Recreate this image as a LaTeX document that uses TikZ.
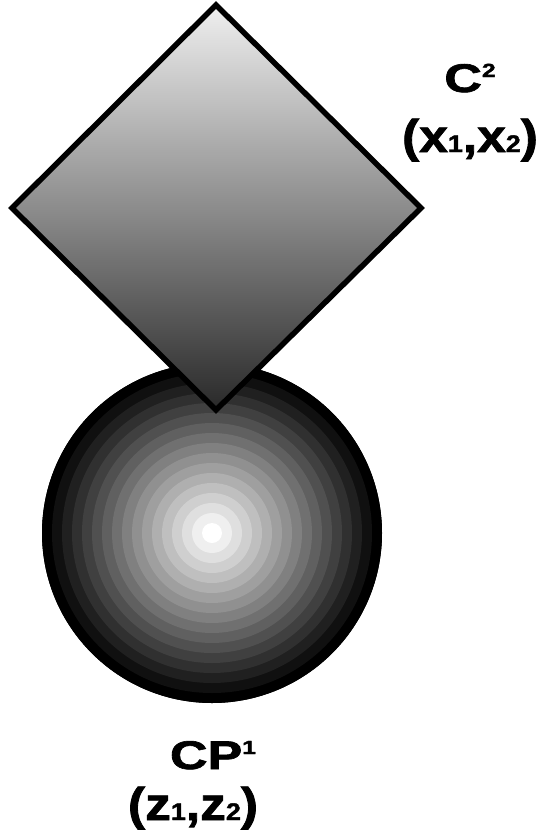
\documentclass[tikz,border=0pt]{standalone}
\usepackage{graphicx}
\usepackage{fontspec}
\setmainfont{Liberation Sans}
\newfontfamily\heavyfont{Liberation Sans}[UprightFont=*-Bold, FakeBold=1.6]
\usepackage{tikz}
\usetikzlibrary{positioning}
\newcommand{\wide}[2][1.3]{\scalebox{#1}[1]{#2}}
\newcommand{\lowidx}[1]{{\fontsize{24}{24}\selectfont #1}}
\newcommand{\upidx}[1]{\raisebox{15pt}{\fontsize{19}{19}\selectfont #1}}

\begin{document}
\begin{tikzpicture}[
  x=1pt, y=-1pt,
  lbl/.style={inner sep=0pt, anchor=base, font=\heavyfont\fontsize{40}{40}\selectfont},
  lblbig/.style={lbl, font=\heavyfont\fontsize{46}{46}\selectfont},
  rim/.style={draw=black, line width=5.5pt, miter limit=10},
]
  \useasboundingbox (0,0) rectangle (542,830);

  % sphere: banded radial shading
  \foreach \i in {0,...,16} {
    \pgfmathsetmacro{\rad}{170-10*\i}
    \pgfmathsetmacro{\pc}{100*\i/16}
    \fill[white!\pc!black] (212,533) circle[radius=\rad];
  }
  \draw[black, line width=8pt] (212,533) circle[radius=166];

  % plane
  \draw[rim, top color=black!6, bottom color=black!84]
    (216,5) -- (421,208) -- (216,410) -- (12,208) -- cycle;

  % labels
  \node[lbl] (plane) at (470,92) {\wide{C\upidx{2}}};
  \node[lblbig] (planexy) at (470,152) {\wide[1.12]{(x\lowidx{1},x\lowidx{2})}};
  \node[lbl] (sphere) at (213,769) {\wide{CP\upidx{1}}};
  \node[lblbig] (spherez) at (193,820) {\wide[1.12]{(z\lowidx{1},z\lowidx{2})}};
\end{tikzpicture}
\end{document}
